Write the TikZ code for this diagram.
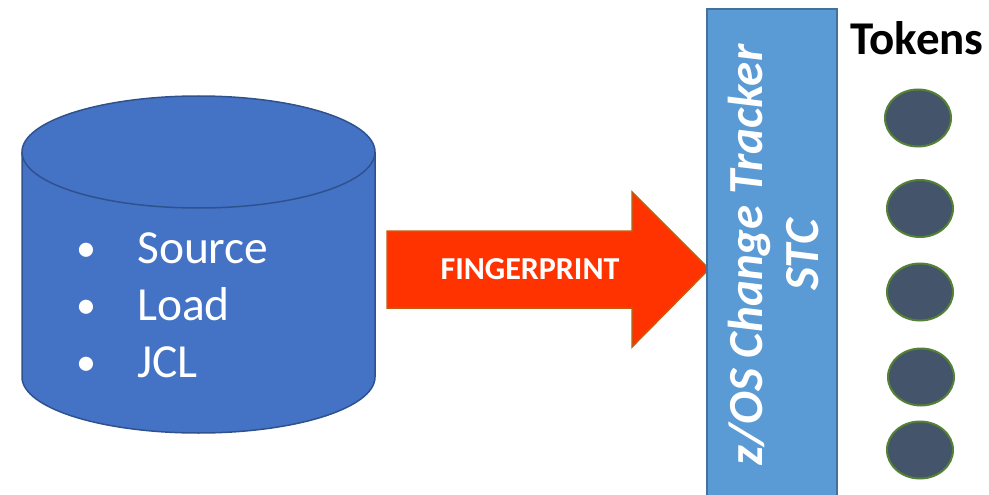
\documentclass[tikz,border=0pt]{standalone}
\usepackage{fontspec}
\setmainfont{Carlito}
\usetikzlibrary{shapes.geometric}
\definecolor{cylfill}{HTML}{4472C4}
\definecolor{cyldraw}{HTML}{2F528F}
\definecolor{arrfill}{HTML}{FF3300}
\definecolor{arrdraw}{HTML}{C55A11}
\definecolor{recfill}{HTML}{5B9BD5}
\definecolor{recdraw}{HTML}{41719C}
\definecolor{tokfill}{HTML}{44546A}
\definecolor{tokdraw}{HTML}{548235}
\begin{document}
\begin{tikzpicture}[x=1pt,y=-1pt,
  itemtext/.style={text=white,font=\fontsize{47.5}{56}\selectfont,inner sep=0pt},
  bullettext/.style={text=white,font=\fontsize{40}{56}\selectfont,inner sep=0pt},
  token/.style={ellipse,fill=tokfill,draw=tokdraw,line width=2pt,minimum width=66pt,minimum height=57pt,inner sep=0pt}]
\useasboundingbox (0,0) rectangle (989,495);
% cylinder
\draw[fill=cylfill,draw=cyldraw,line width=1.5pt]
  (22,152) -- (22,377) arc[start angle=180,end angle=0,x radius=176.5,y radius=56] -- (375,152);
\draw[fill=cylfill,draw=cyldraw,line width=1.5pt] (198.5,152) ellipse[x radius=176.5,y radius=56];
\node[bullettext,anchor=base] (b1) at (86,261) {•};
\node[bullettext,anchor=base] (b2) at (86,318) {•};
\node[bullettext,anchor=base] (b3) at (86,375) {•};
\node[itemtext,anchor=base west] (t1) at (137,263) {Source};
\node[itemtext,anchor=base west] (t2) at (137,320) {Load};
\node[itemtext,anchor=base west] (t3) at (137,377) {JCL};
% arrow
\draw[fill=arrfill,draw=arrdraw,line width=1.5pt]
  (387,231) -- (632,231) -- (632,192) -- (709,269) -- (632,347) -- (632,308) -- (387,308) -- cycle;
\node[anchor=base,text=white,font=\bfseries\fontsize{32}{38}\selectfont,inner sep=0pt] (fp) at (530,279) {FINGERPRINT};
% tracker box
\draw[fill=recfill,draw=recdraw,line width=1.5pt] (707,9) rectangle (837,510);
\node[rotate=90,align=center,text=white,font=\bfseries\itshape\fontsize{49}{56}\selectfont,inner sep=0pt] (stc) at (773,255) {z/OS Change Tracker\\STC};
% tokens
\node[anchor=base west,font=\bfseries\fontsize{47}{54}\selectfont,inner sep=0pt] (tok) at (850,55) {Tokens};
\node[token] (k1) at (918,118) {};
\node[token] (k2) at (920,208.5) {};
\node[token] (k3) at (920,292) {};
\node[token] (k4) at (921,377) {};
\node[token] (k5) at (920,450) {};
\end{tikzpicture}
\end{document}
